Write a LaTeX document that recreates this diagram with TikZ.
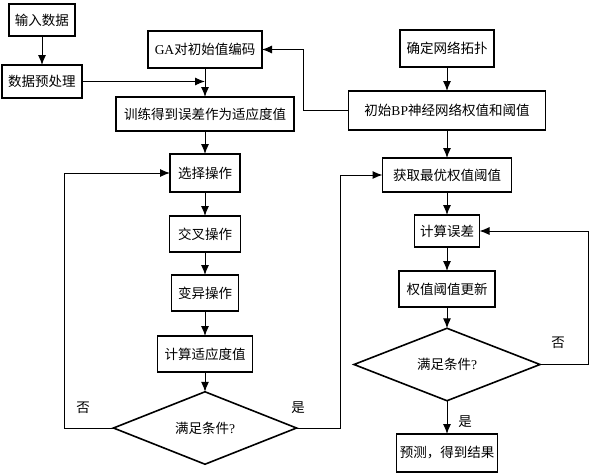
\documentclass[tikz,border=0pt]{standalone}
\usepackage{fontspec}
\setmainfont{Noto Sans CJK SC}
\newfontfamily\latinfont{Liberation Serif}
\usetikzlibrary{shapes.geometric,arrows.meta}

\begin{document}
\begin{tikzpicture}[
    x=1pt, y=-1pt,
    box/.style={rectangle, draw, line width=1.6pt, inner sep=2pt, outer sep=0pt, minimum height=36pt, font=\fontsize{13.5}{16}\selectfont},
    decision/.style={diamond, draw, line width=1.6pt, inner sep=0pt, outer sep=0pt, font=\fontsize{13.5}{16}\selectfont},
    arrow/.style={-{Latex[length=10pt,width=8pt]}, line width=1pt},
    tag/.style={font=\fontsize{13.5}{16}\selectfont}
]
\useasboundingbox (0,0) rectangle (592,474);

% GA part
\node[box, minimum width=66pt, minimum height=32pt] (input) at (42,20) {输入数据};
\node[box, minimum width=80pt, minimum height=33pt] (prep) at (42,81.5) {数据预处理};
\node[box, minimum width=114pt, minimum height=37pt] (gacode) at (205,49.5) {{\latinfont GA}对初始值编码};
\node[box, minimum width=178pt, minimum height=34pt] (train) at (205,114) {训练得到误差作为适应度值};
\node[box, minimum width=70pt, minimum height=38pt] (select) at (205,173) {选择操作};
\node[box, minimum width=71pt] (cross) at (205,234) {交叉操作};
\node[box, minimum width=67pt] (mutate) at (205,293) {变异操作};
\node[box, minimum width=95pt] (fitness) at (205,354) {计算适应度值};
\node[decision, minimum width=183pt, minimum height=60pt] (gacheck) at (205,428) {满足条件{\latinfont ?}};

% BP part
\node[box, minimum width=94pt, minimum height=37pt] (topo) at (447,48.5) {确定网络拓扑};
\node[box, minimum width=197pt, minimum height=39pt] (bpinit) at (447,110.5) {初始{\latinfont BP}神经网络权值和阈值};
\node[box, minimum width=129pt, minimum height=34pt] (best) at (447,175) {获取最优权值阈值};
\node[box, minimum width=65pt, minimum height=32pt] (error) at (447,231) {计算误差};
\node[box, minimum width=96pt] (update) at (447,289) {权值阈值更新};
\node[decision, minimum width=186pt, minimum height=65pt] (bpcheck) at (447,364.5) {满足条件{\latinfont ?}};
\node[box, minimum width=101pt, minimum height=38pt] (predict) at (447,453) {预测，得到结果};

% Arrows
\draw[arrow] (input) -- (prep);
\draw[arrow] (prep.east) -- (prep.east -| gacode.south);
\draw[arrow] (gacode) -- (train);
\draw[arrow] (train) -- (select);
\draw[arrow] (select) -- (cross);
\draw[arrow] (cross) -- (mutate);
\draw[arrow] (mutate) -- (fitness);
\draw[arrow] (fitness) -- (gacheck);
\draw[arrow] (gacheck.west) -- ++(-49,0) |- (select.west);
\draw[arrow] (gacheck.east) -- ++(44,0) |- (best.west);
\draw[arrow] (topo) -- (bpinit);
\draw[arrow] (bpinit.west) -- ++(-45,0) |- (gacode.east);
\draw[arrow] (bpinit) -- (best);
\draw[arrow] (best) -- (error);
\draw[arrow] (error) -- (update);
\draw[arrow] (update) -- (bpcheck);
\draw[arrow] (bpcheck) -- (predict);
\draw[arrow] (bpcheck.east) -- ++(48,0) |- (error.east);

% Labels
\node[tag] (gano) at (83,408) {否};
\node[tag] (gayes) at (298,408) {是};
\node[tag] (bpno) at (558,343) {否};
\node[tag] (bpyes) at (465,422) {是};

\end{tikzpicture}
\end{document}
